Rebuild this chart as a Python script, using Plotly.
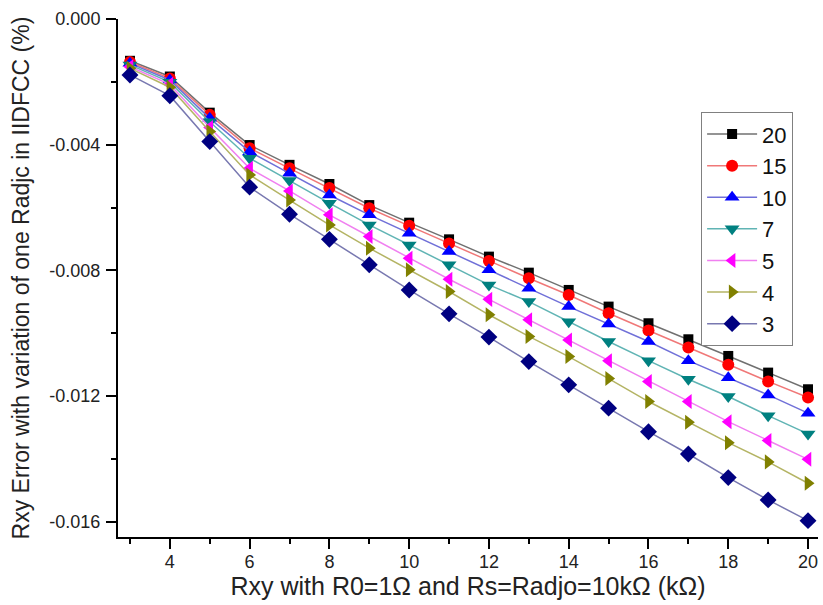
import plotly.graph_objects as go

x_vals = list(range(3, 21))

# Error values (%), one list per Radjc value
s20 = [-0.00133, -0.00183, -0.00298, -0.00401, -0.00464, -0.00525, -0.00592, -0.00648, -0.00701, -0.00756, -0.00807, -0.00862, -0.00915, -0.00968, -0.01019, -0.01072, -0.01125, -0.01178]
s15 = [-0.00137, -0.00189, -0.00305, -0.00411, -0.00475, -0.00538, -0.00602, -0.00658, -0.00714, -0.00770, -0.00825, -0.00878, -0.00936, -0.00991, -0.01045, -0.01100, -0.01153, -0.01204]
s10 = [-0.00141, -0.00194, -0.00316, -0.00422, -0.00491, -0.00560, -0.00623, -0.00682, -0.00740, -0.00798, -0.00857, -0.00915, -0.00970, -0.01026, -0.01087, -0.01141, -0.01196, -0.01254]
s7 = [-0.00146, -0.00201, -0.00327, -0.00443, -0.00514, -0.00586, -0.00655, -0.00719, -0.00782, -0.00846, -0.00899, -0.00963, -0.01026, -0.01087, -0.01146, -0.01201, -0.01262, -0.01320]
s5 = [-0.00152, -0.00208, -0.00345, -0.00475, -0.00547, -0.00623, -0.00692, -0.00761, -0.00828, -0.00892, -0.00957, -0.01021, -0.01087, -0.01153, -0.01217, -0.01281, -0.01341, -0.01401]
s4 = [-0.00157, -0.00217, -0.00358, -0.00496, -0.00576, -0.00655, -0.00729, -0.00798, -0.00867, -0.00941, -0.01010, -0.01074, -0.01144, -0.01217, -0.01283, -0.01348, -0.01409, -0.01477]
s3 = [-0.00178, -0.00244, -0.00390, -0.00535, -0.00621, -0.00701, -0.00782, -0.00862, -0.00938, -0.01012, -0.01090, -0.01164, -0.01238, -0.01313, -0.01384, -0.01459, -0.01530, -0.01596]

series_names = ["20", "15", "10", "7", "5", "4", "3"]
series_values = [s20, s15, s10, s7, s5, s4, s3]

y_tick_vals = [0.0, -0.004, -0.008, -0.012, -0.016]
y_tick_text = ["0.000", "-0.004", "-0.008", "-0.012", "-0.016"]
x_tick_vals = [4, 6, 8, 10, 12, 14, 16, 18, 20]

marker_colors = ["#000000", "#ff0000", "#0000ff", "#008080", "#ff00ff", "#808000", "#000080"]
line_colors = ["#707070", "#f07878", "#7070d8", "#60b4b4", "#f080f0", "#b4b464", "#7878b0"]
symbols = ["square", "circle", "triangle-up", "triangle-down", "triangle-left", "triangle-right", "diamond"]
sizes = [10, 12, 13, 13, 13, 13, 13]

fig = go.Figure()
for name, vals, mc, lc, sym, sz in zip(series_names, series_values, marker_colors, line_colors, symbols, sizes):
    fig.add_trace(go.Scatter(
        x=x_vals, y=vals, name=name, mode="lines+markers",
        line=dict(color=lc, width=1.5),
        marker=dict(symbol=sym, size=sz, color=mc, line=dict(width=0)),
    ))

font_family = "Liberation Sans, Arial, sans-serif"
fig.update_layout(
    width=823, height=605,
    margin=dict(l=118, r=5, t=19, b=68),
    paper_bgcolor="white", plot_bgcolor="white",
    font=dict(family=font_family, color="#222222", size=18),
    showlegend=True,
    legend=dict(
        x=0.833, y=0.820, xanchor="left", yanchor="top",
        bgcolor="white", bordercolor="#808080", borderwidth=1,
        font=dict(size=22, family=font_family, color="#111111"),
        tracegroupgap=0, itemwidth=50,
    ),
    xaxis=dict(
        range=[2.70, 20.25], showgrid=False, zeroline=False,
        showline=True, linecolor="black", linewidth=2,
        tickmode="array", tickvals=x_tick_vals,
        ticks="outside", ticklen=10, tickwidth=2, tickcolor="black",
        minor=dict(dtick=1, tick0=3, ticks="outside", ticklen=5, tickwidth=2, tickcolor="black", showgrid=False),
        tickfont=dict(size=18), ticklabelstandoff=-3,
        title=dict(text="Rxy with R0=1Ω and Rs=Radjo=10kΩ (kΩ)", font=dict(size=25), standoff=6),
    ),
    yaxis=dict(
        range=[-0.01648, 0.0], showgrid=False, zeroline=False,
        showline=True, linecolor="black", linewidth=2,
        tickmode="array", tickvals=y_tick_vals, ticktext=y_tick_text,
        ticks="outside", ticklen=10, tickwidth=2, tickcolor="black",
        minor=dict(dtick=0.002, tick0=0, ticks="outside", ticklen=5, tickwidth=2, tickcolor="black", showgrid=False),
        tickfont=dict(size=18), ticklabelstandoff=2,
        title=dict(text="Rxy Error with variation of one Radjc in IIDFCC (%)", font=dict(size=23), standoff=13),
    ),
)

fig.write_html("out.html", config={"displayModeBar": False},
               post_script="document.body.style.margin='0';")
